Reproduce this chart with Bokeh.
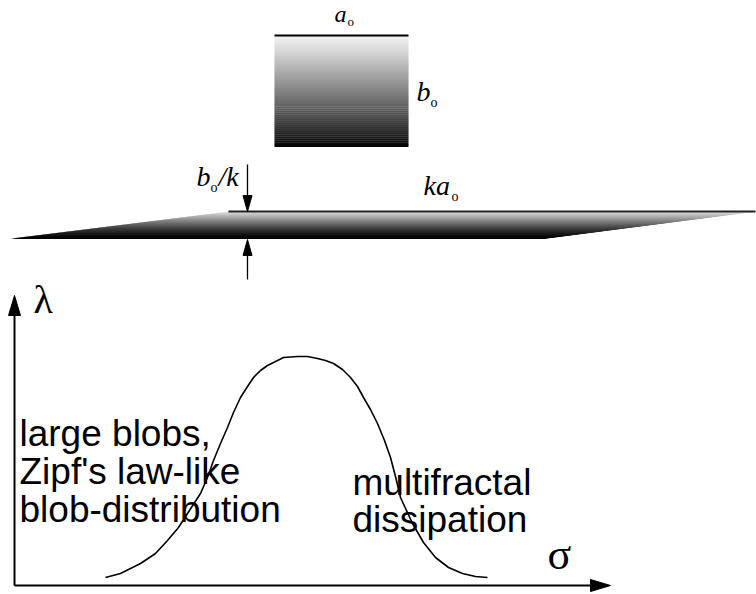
import numpy as np
from bokeh.plotting import figure
from bokeh.models import Range1d
from bokeh.core.properties import value
from bokeh.embed import file_html
from bokeh.resources import INLINE

# ---- geometry (pixel units of the 756x594 image) ----
# block before stretching
block_x = [274, 408]
block_y = [35, 146]
# stretched sheet: top-left, top-right, bottom-right, bottom-left
sheet_x = [228, 755, 545, 10]
sheet_y = [211, 211, 238, 238]
# thickness arrows
thick_x = 247
# axes
origin = (14, 585)
x_axis_end = 610
y_axis_end = 295
# bell-shaped lambda(sigma) curve
curve_x = [105, 120, 140, 155, 167, 178, 187, 200, 207, 213, 220, 227, 233, 240,
           247, 253, 260, 267, 275, 283, 297, 307, 317, 325, 333, 342, 350, 357,
           363, 370, 377, 384, 390, 395, 400, 412, 423, 435, 448, 462, 475, 487]
curve_y = [577, 573, 563, 553, 540, 527, 513, 493, 477, 460, 443, 427, 412, 397,
           386, 377, 370, 365, 361, 357, 356, 356, 358, 360, 363, 369, 377, 386,
           397, 409, 423, 440, 457, 476, 497, 523, 542, 557, 567, 573, 576, 577]

left_text = ["large blobs,", "Zipf's law-like", "blob-distribution"]
right_text = ["multifractal", "dissipation"]

W, H = 756, 594
p = figure(width=W, height=H, x_range=Range1d(0, W), y_range=Range1d(H, 0),
           output_backend="svg", toolbar_location=None, min_border=0)
p.axis.visible = False
p.grid.visible = False
p.outline_line_color = None
p.background_fill_color = "white"
p.border_fill_color = "white"

def grey(g):
    g = int(max(0, min(255, round(g))))
    return "#%02x%02x%02x" % (g, g, g)

# ---- block with vertical gradient ----
n = 55
ys = np.linspace(block_y[0], block_y[1], n + 1)
for i in range(n):
    t = (i + 0.5) / n
    p.quad(left=block_x[0], right=block_x[1], top=ys[i], bottom=ys[i + 1] + 0.4,
           fill_color=grey(245 * (1 - t) ** 0.9), line_color=None)
p.line(block_x, [block_y[0], block_y[0]], line_color="black", line_width=2)

# ---- stretched sheet with gradient ----
m = 27
for i in range(m):
    t0, t1 = i / m, (i + 1) / m
    tc = (i + 0.5) / m
    yt = sheet_y[0] + (sheet_y[3] - sheet_y[0]) * t0
    yb = sheet_y[0] + (sheet_y[3] - sheet_y[0]) * t1
    xl0 = sheet_x[0] + (sheet_x[3] - sheet_x[0]) * t0
    xl1 = sheet_x[0] + (sheet_x[3] - sheet_x[0]) * t1
    xr0 = sheet_x[1] + (sheet_x[2] - sheet_x[1]) * t0
    xr1 = sheet_x[1] + (sheet_x[2] - sheet_x[1]) * t1
    p.patch([xl0, xr0, xr1, xl1], [yt, yt, yb + 0.4, yb + 0.4],
            fill_color=grey(228 * (1 - tc) ** 1.3), line_color=None)
p.line(sheet_x[:2], sheet_y[:2], line_color="#222222", line_width=2)

# ---- thickness arrows ----
def head(tip_x, tip_y, dx, dy, length, half):
    bx, by = tip_x - dx * length, tip_y - dy * length
    px, py = -dy, dx
    return ([tip_x, bx + px * half, bx - px * half], [tip_y, by + py * half, by - py * half])

p.line([thick_x, thick_x], [164, 200], line_color="black", line_width=1.3)
hx, hy = head(thick_x, sheet_y[0], 0, 1, 16, 4.5)
p.patch(hx, hy, fill_color="black", line_color="black")
p.line([thick_x, thick_x], [279, 250], line_color="black", line_width=1.3)
hx, hy = head(thick_x, sheet_y[3] + 1, 0, -1, 16, 4.5)
p.patch(hx, hy, fill_color="black", line_color="black")

# ---- math labels ----
serif = value("Liberation Serif")
ms, ss = "28px", "14px"
p.text(x=[334], y=[26], text=["a"], text_font=serif, text_font_style="italic",
       text_font_size="24px", text_color="black")
p.text(x=[347], y=[28], text=["o"], text_font=serif, text_font_size="13px", text_color="black")
p.text(x=[416], y=[106], text=["b"], text_font=serif, text_font_style="italic",
       text_font_size=ms, text_color="black")
p.text(x=[430], y=[109], text=["o"], text_font=serif, text_font_size=ss, text_color="black")
p.text(x=[196], y=[191], text=["b"], text_font=serif, text_font_style="italic",
       text_font_size=ms, text_color="black")
p.text(x=[210], y=[194], text=["o"], text_font=serif, text_font_size=ss, text_color="black")
p.text(x=[218], y=[191], text=["/k"], text_font=serif, text_font_style="italic",
       text_font_size=ms, text_color="black")
p.text(x=[423], y=[200], text=["ka"], text_font=serif, text_font_style="italic",
       text_font_size=ms, text_color="black")
p.text(x=[451], y=[203], text=["o"], text_font=serif, text_font_size=ss, text_color="black")

# ---- axes with arrow heads ----
ox, oy = origin
p.line([ox, ox], [oy, y_axis_end + 15], line_color="black", line_width=2)
hx, hy = head(ox, y_axis_end, 0, -1, 20, 6)
p.patch(hx, hy, fill_color="black", line_color="black")
p.line([ox, x_axis_end - 15], [oy, oy], line_color="black", line_width=2)
hx, hy = head(x_axis_end, oy, 1, 0, 20, 6)
p.patch(hx, hy, fill_color="black", line_color="black")

p.text(x=[33], y=[321], text=["λ"], text_font=serif, text_font_size="40px", text_color="black")
p.text(x=[547], y=[578], text=["σ"], text_font=serif, text_font_size="44px", text_color="black")

# ---- curve ----
p.line(curve_x, curve_y, line_color="black", line_width=1.6)

# ---- region labels ----
sans = value("Liberation Sans")
p.text(x=[19] * 3, y=[453, 491, 529], text=left_text, text_font=sans,
       text_font_size="37px", text_color="black")
p.text(x=[352] * 2, y=[502, 539], text=right_text, text_font=sans,
       text_font_size="37px", text_color="black")

open("out.html", "w").write(file_html(p, INLINE))
